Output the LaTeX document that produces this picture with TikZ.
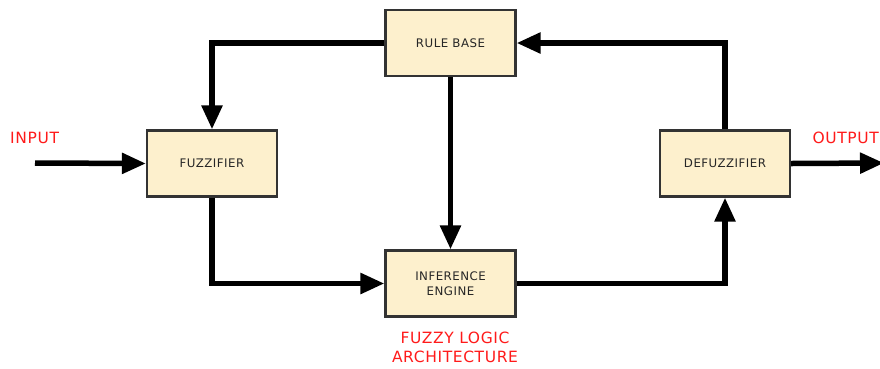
\documentclass[tikz,border=0pt]{standalone}
\usepackage{fontspec}
\setmainfont{DejaVu Sans}[LetterSpace=4]
\usetikzlibrary{arrows.meta}
\definecolor{boxfill}{HTML}{FDF0CD}
\definecolor{boxedge}{HTML}{333333}
\definecolor{lbl}{HTML}{FF1A1A}
\tikzset{
  blk/.style={draw=boxedge, line width=2.2pt, fill=boxfill, minimum width=130pt, minimum height=66pt, inner sep=0pt, align=center, font=\fontsize{11.8}{15}\selectfont, text=black!85},
  conn/.style={line width=5.5pt, -{Triangle[length=24pt,width=20pt]}},
  lab/.style={text=lbl, font=\fontsize{15.5}{19}\selectfont, align=center, inner sep=0pt}
}
\begin{document}
\begin{tikzpicture}[x=1pt,y=-1pt]
\useasboundingbox (0,0) rectangle (880,368);
\node[blk] (rb) at (450.5,43) {RULE BASE};
\node[blk] (fz) at (212,163.5) {FUZZIFIER};
\node[blk] (dz) at (725,163.5) {DEFUZZIFIER};
\node[blk] (ie) at (450.5,283.5) {INFERENCE\\ENGINE};
\coordinate (in) at (35,163);
\coordinate (out) at (884,163);
\node[lab, anchor=west] (inl) at (10,138) {INPUT};
\node[lab, anchor=east] (outl) at (879,138) {OUTPUT};
\node[lab] (title) at (455,347) {FUZZY LOGIC\\ARCHITECTURE};
\draw[conn] (in) -- (fz.west);
\draw[conn] (rb.west) -| (fz.north);
\draw[conn] (rb.south) -- (ie.north);
\draw[conn] (fz.south) |- (ie.west);
\draw[conn] (ie.east) -| (dz.south);
\draw[conn] (dz.north) |- (rb.east);
\draw[conn] (dz.east) -- (out);
\end{tikzpicture}
\end{document}
